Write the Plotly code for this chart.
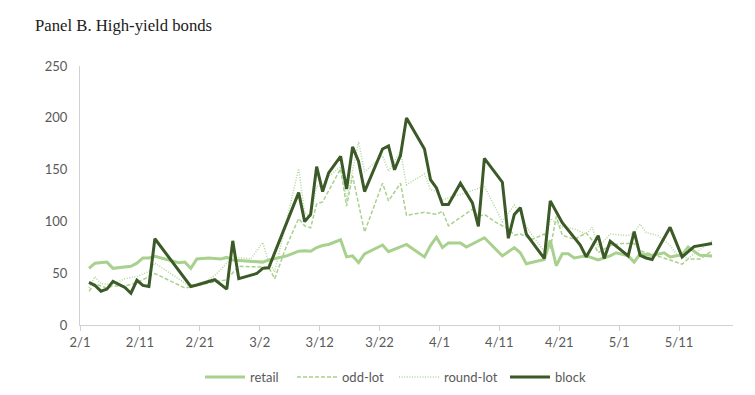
import pandas as pd
import plotly.graph_objects as go

# Dates are stored as day offsets from Feb 1, 2020
BASE = pd.Timestamp("2020-02-01")

retail_day = [1, 2, 4, 5, 8, 9, 10, 11, 12, 16, 17, 18, 19, 21, 23, 24, 25, 28, 30, 31,
              34, 36, 37, 38, 39, 40, 41, 43, 44, 45, 46, 47, 50, 51, 54, 57, 58, 59, 60, 61,
              63, 64, 67, 70, 72, 73, 74, 77, 78, 79, 80, 81, 82, 84, 86, 88, 89, 91, 92, 93,
              95, 97, 98, 100, 101, 103, 105]
retail_val = [55, 60, 61, 55, 57, 60, 65, 65, 66.5, 60.5, 61, 55, 64, 65, 64, 65.5, 63, 62, 61, 63,
              67, 71.5, 72, 71.5, 75, 77, 78, 82.5, 66, 67, 60.5, 69, 77.5, 71, 78, 66, 77, 85, 75, 79.5,
              79.5, 75.5, 84.5, 67, 75, 70, 59.5, 63.5, 82, 57.5, 69, 69, 65, 67, 63, 67, 70, 67, 61, 69,
              67.5, 70, 66, 68, 75.5, 67.5, 67]

oddlot_day = [1, 2, 4, 5, 7, 9, 12, 17, 22, 24, 26, 29, 31, 32, 34, 36, 37, 38, 39, 40,
              41, 43, 44, 45, 47, 50, 51, 53, 54, 57, 59, 60, 61, 63, 65, 66, 67, 69, 71, 72,
              73, 75, 77, 78, 79, 80, 82, 84, 85, 86, 88, 90, 92, 93, 96, 98, 100, 101, 103, 105]
oddlot_val = [33, 40, 36, 38, 38, 41, 50, 36, 42, 44, 57, 56, 56, 45, 77, 103, 96, 94, 117, 119,
              130, 151, 115, 144, 90, 137, 120, 137, 106, 109, 107, 110, 96, 104, 112, 105, 107, 99, 93, 87,
              88, 83, 88, 74, 105, 87, 83, 89, 82, 70, 77, 79, 79, 72, 67, 63, 59, 64, 64, 72]

roundlot_day = [1, 2, 3, 5, 7, 9, 11, 12, 18, 20, 22, 25, 28, 30, 31, 32, 36, 37, 38, 39,
                40, 41, 43, 44, 46, 47, 50, 51, 53, 54, 57, 58, 59, 60, 62, 63, 67, 70, 72, 73,
                74, 77, 78, 80, 82, 84, 85, 86, 88, 91, 92, 93, 94, 96, 98, 99, 101, 102, 105]
roundlot_val = [36, 47, 40, 39.5, 45, 47, 52, 60, 37, 40.5, 48, 66, 64, 80, 61, 51.5, 151, 109, 104, 134,
                134, 143.5, 153, 121, 177, 148, 163.5, 148.5, 168, 135.5, 146, 131, 129, 121, 125, 126, 134, 100, 116, 108,
                95, 71, 103, 95, 93, 88, 94.5, 75.5, 88, 86.5, 89.5, 97.5, 89.5, 86.5, 77, 69, 64.5, 69, 81.5]

block_day = [1, 2, 3, 4, 5, 7, 8, 9, 10, 11, 12, 18, 19, 22, 24, 25, 26, 29, 30, 31,
             36, 37, 38, 39, 40, 41, 43, 44, 45, 46, 47, 50, 51, 52, 53, 54, 57, 58, 59, 60,
             61, 62, 63, 65, 66, 67, 70, 71, 72, 73, 74, 77, 78, 80, 82, 83, 84, 86, 87, 88,
             91, 92, 93, 94, 95, 98, 100, 102, 105]
block_val = [41.5, 38.5, 33, 35, 42.5, 36.5, 31, 43.5, 38.5, 37.5, 83.5, 37.5, 39, 44, 35, 81.5, 45, 50, 55, 55.5,
             128, 100, 107, 153, 129, 147, 163, 131.5, 172, 158, 129, 170, 173, 150, 164, 200, 170, 140.5, 132.5, 116.5,
             116.5, 127, 137, 118, 95.5, 161, 138, 84, 107, 113.5, 88, 64.5, 120, 99, 85, 77.5, 66, 86.5, 64.5, 81,
             67, 90.5, 67.5, 65, 63.5, 94.5, 66, 76, 79]

series_names = ["retail", "odd-lot", "round-lot", "block"]


def to_dates(days):
    # points sit in the middle of each day slot (Excel date axis "between tick marks")
    return BASE + pd.to_timedelta(days, unit="D") + pd.Timedelta(hours=12)


LIGHT = "#a9d18e"
DARK = "#3b5a27"
GRAY = "#595959"
AXIS = "#d0d0d0"
FONT = "Lato"

styles = [
    dict(color=LIGHT, width=3),
    dict(color=LIGHT, width=1.5, dash="4px,2px"),
    dict(color="#b0d69a", width=1.5, dash="1px,1.6px"),
    dict(color=DARK, width=3),
]
data = [(retail_day, retail_val), (oddlot_day, oddlot_val),
        (roundlot_day, roundlot_val), (block_day, block_val)]
legend_ids = ["legend2", "legend3", "legend4", "legend5"]
legend_x = [200, 292, 394, 505]

fig = go.Figure()
for name, (d, v), st, lid in zip(series_names, data, styles, legend_ids):
    fig.add_trace(go.Scatter(x=to_dates(d), y=v, mode="lines", name=name,
                             line=st, legend=lid, hoverinfo="skip"))

legend_common = dict(orientation="h", font=dict(family=FONT, size=13, color=GRAY),
                     itemwidth=40, bgcolor="rgba(0,0,0,0)", xref="container",
                     yref="container", y=1 - 377 / 395, yanchor="middle", xanchor="left")

layout_legends = {}
for lid, lx in zip(legend_ids, legend_x):
    layout_legends[lid] = dict(legend_common, x=lx / 755)

fig.update_layout(
    width=755, height=395,
    margin=dict(l=80, r=22, t=66, b=67),
    paper_bgcolor="white", plot_bgcolor="white",
    title=dict(text="Panel B. High-yield bonds",
               font=dict(family="Liberation Serif", size=16.7, color="#1a1a1a"),
               x=35 / 755, xanchor="left", xref="container",
               y=1 - 25 / 395, yanchor="middle", yref="container"),
    showlegend=True,
    **layout_legends,
)

fig.update_xaxes(type="date", range=["2020-02-01", "2020-05-20"],
                 tick0="2020-02-01", dtick=10 * 86400000, tickformat="%-m/%-d",
                 showline=True, linecolor=AXIS, linewidth=1,
                 ticks="outside", ticklen=5, tickcolor=AXIS,
                 showgrid=False, zeroline=False,
                 tickfont=dict(family=FONT, size=13, color=GRAY))
fig.update_yaxes(range=[0, 250], dtick=50, showline=True, linecolor=AXIS, linewidth=1,
                 ticks="", showgrid=False, zeroline=False, ticklabelstandoff=9,
                 tickfont=dict(family=FONT, size=13, color=GRAY))

fig.write_html("out.html")
